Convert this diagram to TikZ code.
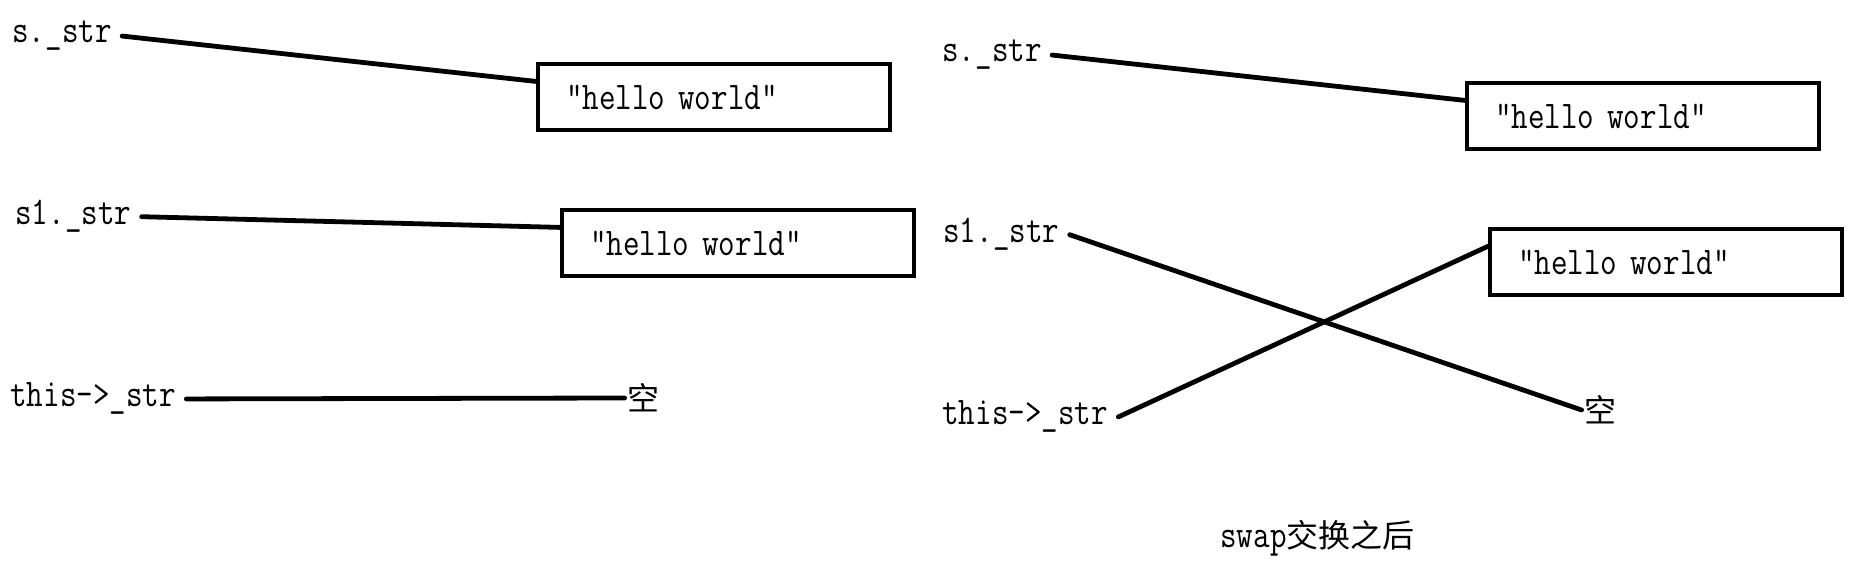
\documentclass[tikz,border=0pt]{standalone}
\usepackage{fontspec}
\setmonofont{Latin Modern Mono}[FakeStretch=0.82]
\newfontfamily\cjk{Noto Sans CJK SC}
\usepackage{tikz}

\begin{document}
\begin{tikzpicture}[x=0.5pt,y=-0.5pt]

			\tikzstyle{ptr}=[font=\fontsize{19.6}{22}\selectfont\ttfamily, inner xsep=5pt, inner ysep=0pt, anchor=base west]
			\tikzstyle{str box}=[draw, line width=2.3pt, minimum height=33pt, text width=148pt, inner xsep=14pt, align=left, font=\fontsize{19.6}{22}\selectfont\ttfamily]
			\tikzstyle{empty}=[font=\fontsize{16}{18}\selectfont\cjk, inner sep=1pt]
			\tikzstyle{link}=[line width=2.4pt, line cap=round]

		\useasboundingbox (0,0) rectangle (1860,566);

		%left side, before swap
		\node [ptr] (sL) at (2,43) {s.\_str};
		\node [ptr] (s1L) at (5,225) {s1.\_str};
		\node [ptr] (thisL) at (0,407) {this->\_str};
		\node [str box] (boxA) at (714,97) {"hello world"};
		\node [str box] (boxB) at (738,243) {"hello world"};
		\node [empty] (emptyL) at (643,398) {空};

		\draw [link] (sL.east) -- (boxA.175);
		\draw [link] (s1L.east) -- (boxB.175);
		\draw [link] (thisL.east) -- (emptyL.west);

		%right side, after swap
		\node [ptr] (sR) at (932,62) {s.\_str};
		\node [ptr] (s1R) at (933,243) {s1.\_str};
		\node [ptr] (thisR) at (932,425) {this->\_str};
		\node [str box] (boxC) at (1643,116) {"hello world"};
		\node [str box] (boxD) at (1666,262) {"hello world"};
		\node [empty] (emptyR) at (1600,410) {空};

		\draw [link] (sR.east) -- (boxC.175);
		\draw [link] (s1R.east) -- (emptyR.west);
		\draw [link] (thisR.east) -- (boxD.175);

		%caption
		\node [ptr, inner xsep=0pt] (after) at (1220,548) {swap{\fontsize{16}{18}\selectfont\cjk 交换之后}};

		\end{tikzpicture}
\end{document}
